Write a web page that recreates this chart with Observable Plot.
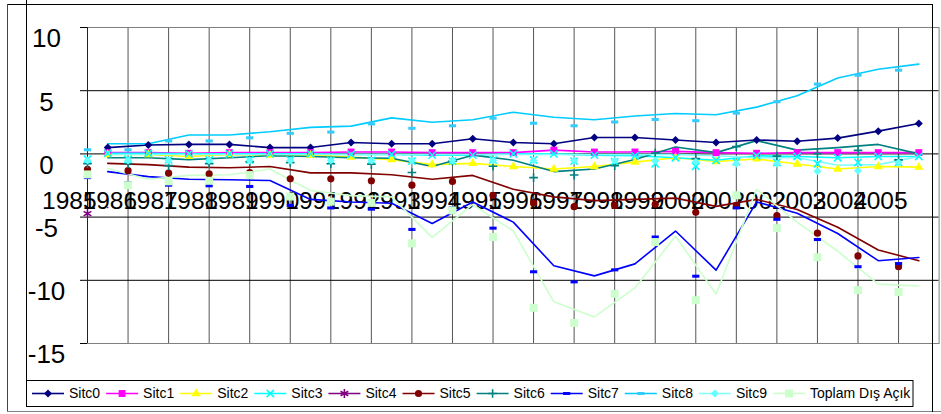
<!DOCTYPE html>
<html><head><meta charset="utf-8">
<script src="https://cdn.jsdelivr.net/npm/d3@7"></script>
<script src="https://cdn.jsdelivr.net/npm/@observablehq/plot@0.6"></script>
<style>
body{margin:0;background:#fff}
#chart{position:relative;width:941px;height:414px}
</style>
</head><body><div id="chart"></div>
<script>
// ---- data ----
const years = [1985,1986,1987,1988,1989,1990,1991,1992,1993,1994,1995,1996,1997,1998,1999,2000,2001,2002,2003,2004,2005];
const sitc0 = [0.5,0.7,0.75,0.75,0.5,0.5,0.9,0.8,0.8,1.2,0.9,0.8,1.3,1.3,1.1,0.9,1.1,1.0,1.25,1.8,2.4];
const sitc1 = [0.1,0.1,0.05,0.1,0.1,0.1,0.15,0.15,0.1,0.1,0.1,0.3,0.15,0.15,0.2,0.1,0.05,0.1,0.1,0.1,0.1];
const sitc2 = [-0.05,-0.05,-0.2,-0.05,-0.1,-0.1,-0.25,-0.45,-0.85,-0.75,-1.0,-1.2,-1.0,-0.65,-0.3,-0.6,-0.4,-0.8,-1.2,-1.0,-1.05];
const sitc3 = [0.05,0.05,0,0,0,0,-0.05,-0.05,-0.1,-0.1,0,0,-0.1,-0.15,-0.3,-0.5,-0.15,-0.2,-0.3,-0.2,-0.2];
const sitc4 = [-4.25,null,null,null,null,null,null,null,null,null,null,null,null,null,null,null,null,null,null,null,null];
const sitc5 = [-0.75,-0.85,-1.05,-1.1,-1.0,-1.5,-1.5,-1.65,-2.0,-1.7,-2.8,-3.4,-3.7,-3.6,-3.5,-4.15,-3.6,-4.4,-5.8,-7.6,-8.45];
const sitc6 = [-0.3,-0.3,-0.45,-0.3,-0.15,-0.2,-0.3,-0.35,-1.0,-0.1,-0.5,-1.4,-1.2,-0.45,0.55,0.1,1.05,0.3,0.5,0.75,0.0];
const sitc7 = [-1.4,-1.8,-2.0,-2.05,-2.1,-3.6,-3.8,-3.9,-5.5,-3.8,-5.4,-8.85,-9.65,-8.7,-6.1,-9.2,-3.8,-4.7,-6.3,-8.45,-8.2];
const sitc8 = [0.8,0.8,1.5,1.5,1.75,2.1,2.2,2.85,2.5,2.7,3.3,2.9,2.7,3.0,3.2,3.1,3.7,4.6,6.0,6.7,7.1];
const sitc9 = [-0.05,-0.05,-0.05,-0.05,-0.05,-0.05,-0.05,-0.05,-0.05,-0.05,-0.05,-0.05,-0.05,-0.05,-0.05,-0.15,-0.3,-0.3,-0.9,-0.85,-0.2];
const toplam = [-1.15,-2.0,-1.7,-1.65,-1.2,-2.9,-3.3,-3.4,-6.6,-4.0,-6.1,-11.7,-12.9,-10.6,-6.5,-11.1,-2.8,-5.4,-7.7,-10.3,-10.45];
const seriesNames = ["Sitc0","Sitc1","Sitc2","Sitc3","Sitc4","Sitc5","Sitc6","Sitc7","Sitc8","Sitc9","Toplam Dış Açık"];
const seriesValues = [sitc0,sitc1,sitc2,sitc3,sitc4,sitc5,sitc6,sitc7,sitc8,sitc9,toplam];
const yTicks = [10,5,0,-5,-10,-15];
const yGrid = [5,0,-5,-10];
const xAxisCross = -3.7;

// ---- styles ----
const FONT = "'Liberation Sans', Arial, sans-serif";
const dash = {draw(ctx, size){ const s = Math.sqrt(size/Math.PI); ctx.rect(-s, -s*0.42, 2*s, 0.84*s); }};
const lineColors = ["#000080","#FF00FF","#FFFF00","#00FFFF","#800080","#800000","#008080","#0000FF","#00CCFF","#80FFFF","#CCFFCC"];
const markColors = ["#000080","#FF00FF","#FFFF00","#00FFFF","#800080","#800000","#008080","#0000FF","#33CCFF","#66FFFF","#CCFFCC"];
const symbols = [d3.symbolDiamond2,d3.symbolSquare,d3.symbolTriangle,d3.symbolTimes,d3.symbolAsterisk,d3.symbolCircle,d3.symbolPlus,dash,dash,d3.symbolDiamond2,d3.symbolSquare];
const strokeSym = new Set([3,4,6]);
const radii = [3.6,3.9,3.4,3.4,4.2,3.6,2.9,3.6,3.6,3.6,4.5];
const onLineMarkers = [0,1,2,3];
const offsetMarkers = [3,4,5,6,7,8,9,10];

const rows = [];
seriesValues.forEach((vals, i) => vals.forEach((v, k) => { if (v != null) rows.push({series: seriesNames[i], idx: i, year: years[k], value: v}); }));
const gridYears = years.slice(0, -1).map(y => y + 0.5);

function dotMark(i, offset) {
  const data = rows.filter(r => r.idx === i);
  const o = {x: offset ? (d => d.year - 0.5) : "year", y: "value", r: radii[i], symbol: symbols[i], dy: offset ? 6 : 0};
  if (strokeSym.has(i)) { o.stroke = markColors[i]; o.fill = "none"; o.strokeWidth = 1.6; }
  else { o.fill = markColors[i]; o.stroke = "none"; }
  return Plot.dot(data, o);
}

const marks = [
  Plot.ruleX(gridYears, {stroke: "#555", strokeWidth: 1}),
  Plot.ruleY(yGrid, {stroke: "#000", strokeWidth: 1}),
  Plot.frame({stroke: "#808080"}),
  Plot.ruleX([years[0] - 0.5], {stroke: "#222"}),
  Plot.axisY({ticks: yTicks, tickSize: 7, tickFormat: () => "", stroke: "#000", label: null}),
  Plot.text(yTicks, {y: d => d, frameAnchor: "left", dx: -41, dy: 11.5, textAnchor: "middle", fontSize: 26, text: d => String(d), fill: "#000"}),
  Plot.text(years, {x: d => d, y: () => xAxisCross, dx: -38.5, text: d => String(d), fontSize: 24.5, fill: "#000"}),
  Plot.line(rows, {x: "year", y: "value", z: "series", stroke: "series", strokeWidth: 1.6})
];
onLineMarkers.forEach(i => marks.push(dotMark(i, false)));
offsetMarkers.forEach(i => marks.push(dotMark(i, true)));

const svg = Plot.plot({
  width: 941, height: 414,
  marginLeft: 87, marginRight: 2.4, marginTop: 27, marginBottom: 71,
  x: {domain: [years[0] - 0.5, years[years.length-1] + 0.5], axis: null},
  y: {domain: [-15, 10], axis: null},
  color: {domain: seriesNames, range: lineColors},
  style: {fontFamily: FONT, background: "white", overflow: "visible"},
  marks
});

// ---- chart frames & legend ----
const g = d3.select(svg).append("g").attr("fill", "none");
const ln = (x1,y1,x2,y2,c) => g.append("line").attr("x1",x1).attr("y1",y1).attr("x2",x2).attr("y2",y2).attr("stroke",c).attr("stroke-width",1);
ln(7,4.5,932,4.5,"#000");
ln(7.5,4,7.5,411,"#444");
ln(7,411.5,941,411.5,"#808080");
ln(932.5,4,932.5,412,"#000");
ln(26.5,0,26.5,406,"#000");

const lg = d3.select(svg).append("g").attr("text-anchor", "start");
lg.append("rect").attr("x",26.5).attr("y",380.5).attr("width",886.5).attr("height",26).attr("fill","white").attr("stroke","#000");
seriesNames.forEach((name, i) => {
  const x0 = 32 + i * 74.1, cy = 393.5;
  lg.append("line").attr("x1",x0).attr("x2",x0+32).attr("y1",cy).attr("y2",cy).attr("stroke",lineColors[i]).attr("stroke-width",1.6);
  const p = lg.append("path").attr("transform",`translate(${x0+16},${cy})`).attr("d", d3.symbol(symbols[i], Math.PI*radii[i]*radii[i])());
  if (strokeSym.has(i)) p.attr("fill","none").attr("stroke",markColors[i]).attr("stroke-width",1.6);
  else p.attr("fill",markColors[i]);
  lg.append("text").attr("x",x0+37).attr("y",cy).attr("dy","0.35em").attr("font-size",14).attr("fill","#000")
    .attr("text-anchor","start").style("font-family",FONT).text(name);
});

document.getElementById("chart").appendChild(svg);
</script>
</body></html>
